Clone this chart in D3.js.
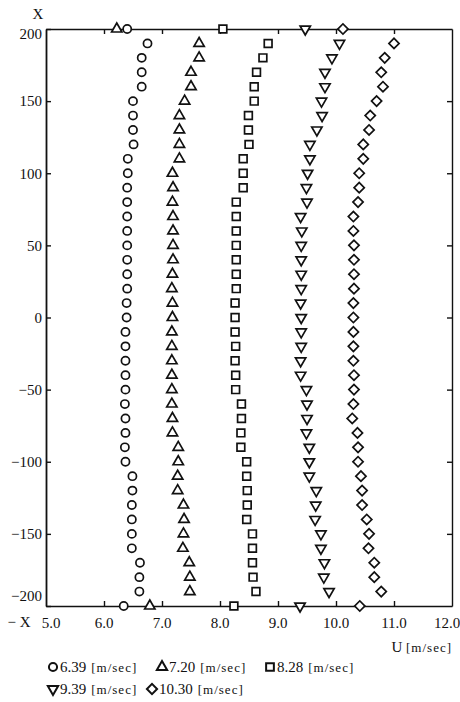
<!DOCTYPE html>
<html>
  <head>
    <meta charset="utf-8">
    <script src="https://d3js.org/d3.v7.min.js"></script>
    <style>
     body { margin: 0; background: #fff; }
     text { font-family: "Liberation Serif", "DejaVu Serif", serif; fill: #111; }
     .axis path, .axis line { stroke: #111; stroke-width: 1.4; fill: none; }
     .unit { font-size: 13px; letter-spacing: 1px; }
    </style>
  </head>
  <body>
    <svg id="chart"></svg>
    <script>
     // lateral position X (top wall = 200, bottom wall = -200)
     var positions = [200,190,180,170,160,150,140,130,120,110,100,90,80,70,60,50,40,30,20,10,0,
		      -10,-20,-30,-40,-50,-60,-70,-80,-90,-100,-110,-120,-130,-140,-150,-160,-170,-180,-190,-200];

     // velocity U [m/sec] for each mean speed
     var u639 = [6.40,6.75,6.65,6.65,6.65,6.50,6.50,6.50,6.51,6.41,6.41,6.40,6.40,6.40,6.40,6.40,6.40,6.40,6.40,6.39,6.39,
		 6.37,6.37,6.37,6.37,6.37,6.36,6.37,6.37,6.36,6.37,6.49,6.49,6.48,6.48,6.48,6.48,6.62,6.61,6.61,6.34];
     var u720 = [6.22,7.64,7.64,7.50,7.50,7.39,7.30,7.30,7.30,7.30,7.18,7.19,7.18,7.19,7.19,7.19,7.19,7.18,7.17,7.18,7.18,
		 7.17,7.17,7.17,7.17,7.17,7.17,7.18,7.18,7.28,7.28,7.27,7.27,7.37,7.38,7.37,7.36,7.47,7.48,7.48,6.79];
     var u828 = [8.05,8.83,8.74,8.63,8.59,8.59,8.49,8.49,8.50,8.40,8.40,8.40,8.28,8.28,8.28,8.28,8.28,8.28,8.28,8.26,8.26,
		 8.26,8.27,8.26,8.27,8.27,8.37,8.37,8.36,8.36,8.46,8.46,8.47,8.47,8.46,8.56,8.56,8.56,8.57,8.62,8.24];
     var u939 = [9.47,10.06,9.93,9.81,9.81,9.75,9.76,9.67,9.55,9.55,9.51,9.49,9.50,9.39,9.41,9.40,9.40,9.40,9.40,9.39,9.40,
		 9.40,9.40,9.39,9.39,9.49,9.50,9.50,9.49,9.54,9.54,9.54,9.66,9.65,9.64,9.74,9.74,9.80,9.79,9.88,9.38];
     var u1030 = [10.12,11.00,10.84,10.78,10.81,10.70,10.59,10.57,10.47,10.47,10.40,10.40,10.38,10.30,10.30,10.31,10.31,10.31,10.31,10.30,10.30,
		  10.30,10.30,10.30,10.31,10.31,10.30,10.28,10.37,10.38,10.38,10.43,10.45,10.45,10.53,10.57,10.56,10.66,10.66,10.78,10.41];

     var seriesLabels = ["6.39", "7.20", "8.28", "9.39", "10.30"];
     var seriesValues = [u639, u720, u828, u939, u1030];
     var xTicks = [5, 6, 7, 8, 9, 10, 11, 12];
     var yTicks = [200, 150, 100, 50, 0, -50, -100, -150, -200];

     var W = 460, H = 702;
     var margin = {top: 29, right: 8, bottom: 96, left: 46};
     var width = W - margin.left - margin.right,
	 height = H - margin.top - margin.bottom;

     var xScale = d3.scaleLinear().domain([5, 12]).range([0, width]);
     var yScale = d3.scaleLinear().domain([-200, 200]).range([height, 0]);

     // one marker shape per series
     var shapes = [
       {type: d3.symbolCircle, size: 52, rot: 0},
       {type: d3.symbolTriangle, size: 46, rot: 0},
       {type: d3.symbolSquare, size: 60, rot: 0},
       {type: d3.symbolTriangle, size: 46, rot: 180},
       {type: d3.symbolSquare, size: 52, rot: 45}
     ];

     var svg = d3.select("#chart").attr("width", W).attr("height", H);
     var g = svg.append("g").attr("transform", "translate(" + margin.left + "," + margin.top + ")");

     // frame with inward ticks on every side
     g.append("g").attr("class", "axis")
      .attr("transform", "translate(0," + height + ")")
      .call(d3.axisBottom(xScale).tickValues(xTicks.slice(1, -1)).tickSize(-5).tickSizeOuter(0).tickFormat(""));
     g.append("g").attr("class", "axis")
      .call(d3.axisTop(xScale).tickValues(xTicks.slice(1, -1)).tickSize(-5).tickSizeOuter(0).tickFormat(""));
     g.append("g").attr("class", "axis")
      .attr("transform", "translate(" + width + ",0)")
      .call(d3.axisRight(yScale).tickValues(yTicks.slice(1, -1)).tickSize(-5).tickSizeOuter(0).tickFormat(""));
     var yAxis = g.append("g").attr("class", "axis")
		  .call(d3.axisLeft(yScale).tickValues(yTicks).tickSize(-5).tickSizeOuter(0).tickPadding(4)
			.tickFormat(function(d) { return d < 0 ? "\u2212" + Math.abs(d) : d; }));
     yAxis.select(".domain").style("stroke-width", 1.8);
     yAxis.selectAll(".tick text")
	  .style("font-size", "15px")
	  .attr("dy", function(d) { return d == 200 ? "0.6em" : d == -200 ? "-0.4em" : "0.32em"; });

     // x tick labels under the frame
     g.selectAll(".xlab")
      .data(xTicks)
      .enter().append("text")
      .attr("class", "xlab")
      .attr("x", function(d) { return xScale(d) + (d == 5 ? 5 : d == 12 ? -5 : 0); })
      .attr("y", height + 22)
      .style("text-anchor", "middle")
      .style("font-size", "15px")
      .text(function(d) { return d3.format(".1f")(d); });

     g.append("text").attr("x", -8).attr("y", -10).style("text-anchor", "middle").style("font-size", "15px").text("X");
     g.append("text").attr("x", -27).attr("y", height + 21).style("text-anchor", "middle").style("font-size", "15px").text("\u2212 X");
     var ulab = g.append("text").attr("x", width).attr("y", height + 46).style("text-anchor", "end").style("font-size", "15px");
     ulab.append("tspan").text("U ");
     ulab.append("tspan").attr("class", "unit").text("[m/sec]");

     // markers
     seriesValues.forEach(function(vals, s) {
       var sh = shapes[s];
       g.selectAll(".m" + s)
	.data(vals)
	.enter().append("path")
	.attr("class", "m" + s)
	.attr("d", d3.symbol().type(sh.type).size(sh.size))
	.attr("transform", function(d, i) {
	  return "translate(" + xScale(d) + "," + yScale(positions[i]) + ") rotate(" + sh.rot + ")";
	})
	.style("fill", "#fff")
	.style("stroke", "#111")
	.style("stroke-width", 1.7);
     });

     // legend, two rows
     var legendPos = [[53, 667], [162, 667], [270, 667], [53, 689], [152, 689]];
     var leg = svg.selectAll(".leg")
		  .data(seriesLabels)
		  .enter().append("g")
		  .attr("class", "leg")
		  .attr("transform", function(d, i) { return "translate(" + legendPos[i][0] + "," + legendPos[i][1] + ")"; });
     leg.append("path")
	.attr("d", function(d, i) { return d3.symbol().type(shapes[i].type).size(shapes[i].size)(); })
	.attr("transform", function(d, i) { return "rotate(" + shapes[i].rot + ")"; })
	.style("fill", "#fff")
	.style("stroke", "#111")
	.style("stroke-width", 2);
     var lt = leg.append("text").attr("x", 7).attr("dy", "0.35em").style("font-size", "15px");
     lt.append("tspan").text(function(d) { return d; });
     lt.append("tspan").attr("class", "unit").attr("dx", 5).text("[m/sec]");
    </script>
  </body>
</html>
